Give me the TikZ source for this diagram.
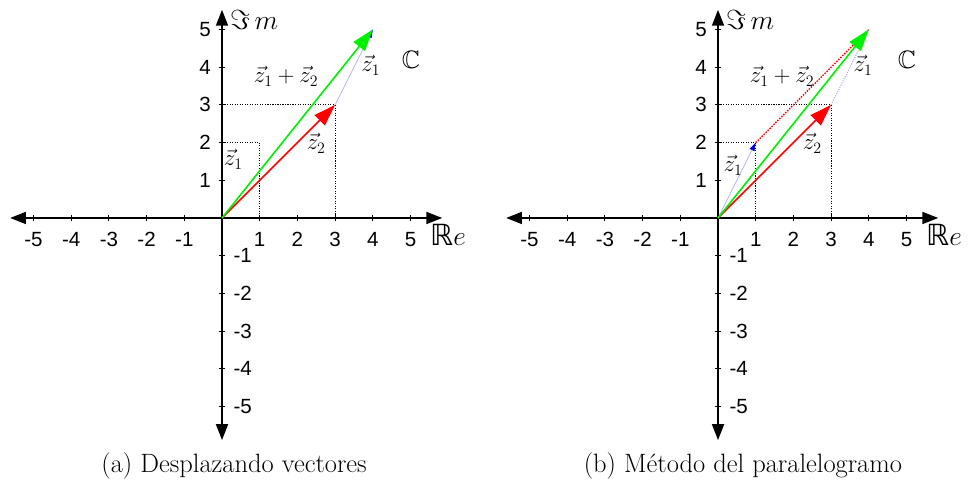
\documentclass[tikz,border=0pt]{standalone}
\usepackage{amssymb}
\usepackage{fontspec}
\newfontfamily\ticksf{Liberation Sans}
\newfontfamily\bbsf{DejaVu Sans}
\usetikzlibrary{arrows.meta}
\definecolor{vgreen}{RGB}{0,240,0}
\definecolor{vred}{RGB}{255,0,0}
\definecolor{vlblue}{RGB}{170,170,255}
\definecolor{vdblue}{RGB}{0,0,220}
\newcommand\drawaxes[1]{%
  \coordinate (#1O) at (0,0);
  \coordinate (#1L) at (-5.62,0);
  \coordinate (#1R) at (5.84,0);
  \coordinate (#1T) at (0,5.52);
  \coordinate (#1B) at (0,-5.89);
  \draw[axis] (#1L) -- (#1R);
  \draw[axis] (#1B) -- (#1T);
  \foreach \k in {-5,...,-1,1,2,...,5}{
    \draw[tickmark] (\k,-0.08) -- (\k,0.08);
    \draw[tickmark] (-0.08,\k) -- (0.08,\k);
    \node[ticklab] (#1x\k) at (\k,-0.57) {\k};
  }
  \foreach \k in {1,...,5}{\node[ticklab] (#1y\k) at (-0.45,\k) {\k};}
  \foreach \k in {-1,-2,-3,-4,-5}{\node[ticklab] (#1y\k) at (0.55,\k) {\k};}
  \node[bigaxlab,anchor=base west] (#1im) at (0.21,4.99) {$\Im\, m$};
  \node[bigaxlab,anchor=base west] (#1re) at (5.52,-0.72) {{\bbsf ℝ}$e$};
  \node[axlab] (#1C) at (5.01,4.19) {$\mathbb{C}$};
  \coordinate (#1Z1) at (1,2);
  \coordinate (#1Z2) at (3,3);
  \coordinate (#1S) at (4,5);
  \draw[guide] (0,2) -- (#1Z1) -- (1,0);
  \draw[guide] (0,3) -- (#1Z2) -- (3,0);
}
\tikzset{
  axis/.style={line width=1.1pt,{Triangle[length=0.42cm,width=0.32cm]}-{Triangle[length=0.42cm,width=0.32cm]}},
  tickmark/.style={line width=0.8pt},
  ticklab/.style={font=\ticksf\fontsize{15.5}{18}\selectfont,inner sep=0pt},
  axlab/.style={font=\fontsize{19}{22}\selectfont,inner sep=0pt},
  bigaxlab/.style={font=\fontsize{22}{26}\selectfont,inner sep=0pt},
  vlab/.style={font=\fontsize{18.5}{22}\selectfont,inner sep=0pt},
  captext/.style={font=\fontsize{20}{24}\selectfont,inner sep=0pt},
  guide/.style={densely dotted,line width=0.9pt},
  bigvec/.style={line width=1.2pt,-{Triangle[length=0.58cm,width=0.38cm]}},
  thinvec/.style={line width=0.5pt,color=vlblue,-{Triangle[length=0.22cm,width=0.14cm,color=vdblue,fill=vdblue]}},
}
\begin{document}
\begin{tikzpicture}
\useasboundingbox (-5.889,-7.082) rectangle (19.788,5.782);
% panel (a)
\begin{scope}
  \drawaxes{a}
  \draw[thinvec] (aZ2) -- (aS);
  \draw[bigvec,vred] (aO) -- (aZ2);
  \draw[bigvec,vgreen] (aO) -- (aS);
  \node[vlab] (az1a) at (0.3,1.55) {$\vec{z}_1$};
  \node[vlab] (az2) at (2.5,1.98) {$\vec{z}_2$};
  \node[vlab] (asum) at (1.70,3.76) {$\vec{z}_1+\vec{z}_2$};
  \node[vlab] (az1b) at (3.95,4.05) {$\vec{z}_1$};
  \node[captext] (capa) at (0.32,-6.58) {(a) Desplazando vectores};
\end{scope}
% panel (b)
\begin{scope}[shift={(13.157,0)}]
  \drawaxes{b}
  \draw[thinvec] (bO) -- (bZ1);
  \draw[densely dotted,line width=1.1pt,vred] (bZ1) -- (bS);
  \draw[densely dotted,line width=0.8pt,vlblue] (bZ2) -- (bS);
  \draw[bigvec,vred] (bO) -- (bZ2);
  \draw[bigvec,vgreen] (bO) -- (bS);
  \node[vlab] (bz1a) at (0.4,1.4) {$\vec{z}_1$};
  \node[vlab] (bz2) at (2.5,1.98) {$\vec{z}_2$};
  \node[vlab] (bsum) at (1.70,3.76) {$\vec{z}_1+\vec{z}_2$};
  \node[vlab] (bz1b) at (3.85,4.05) {$\vec{z}_1$};
  \node[captext] (capb) at (0.66,-6.58) {(b) Método del paralelogramo};
\end{scope}
\end{tikzpicture}
\end{document}
